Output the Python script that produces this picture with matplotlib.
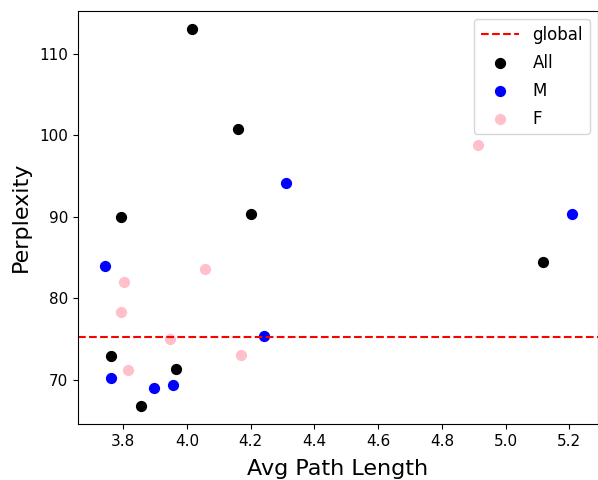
import matplotlib
matplotlib.use("Agg")
import matplotlib.pyplot as plt

# perplexity vs avg path length, per group
global_ppl = 75.25

all_x = [4.017, 4.16, 4.201, 3.793, 5.117, 3.761, 3.965, 3.854]
all_y = [113.0, 100.8, 90.3, 90.0, 84.5, 72.9, 71.35, 66.8]

m_x = [3.743, 4.312, 5.208, 4.241, 3.762, 3.895, 3.957]
m_y = [84.0, 94.1, 90.4, 75.4, 70.2, 69.0, 69.4]

f_x = [4.914, 4.058, 3.803, 3.793, 3.946, 4.17, 3.814]
f_y = [98.8, 83.6, 82.0, 78.3, 75.0, 73.0, 71.2]

fig = plt.figure(figsize=(5.98, 4.8), dpi=100)
ax = fig.add_axes([0.13, 0.117, 0.87, 0.861])

ax.axhline(global_ppl, color="red", linestyle="--", label="global")
ax.scatter(all_x, all_y, color="black", s=50, label="All")
ax.scatter(m_x, m_y, color="blue", s=50, label="M")
ax.scatter(f_x, f_y, color="pink", s=50, label="F")

ax.set_xlim(3.657, 5.29)
ax.set_ylim(64.6, 115.3)
ax.set_xticks([3.8, 4.0, 4.2, 4.4, 4.6, 4.8, 5.0, 5.2])
ax.set_yticks([70, 80, 90, 100, 110])
ax.tick_params(labelsize=11)
ax.set_xlabel("Avg Path Length", fontsize=16, labelpad=7.5)
ax.set_ylabel("Perplexity", fontsize=16, labelpad=6)
ax.legend(loc="upper right", fontsize=12, labelspacing=0.6, handlelength=2.3)

fig.savefig("out.png", dpi=100)
